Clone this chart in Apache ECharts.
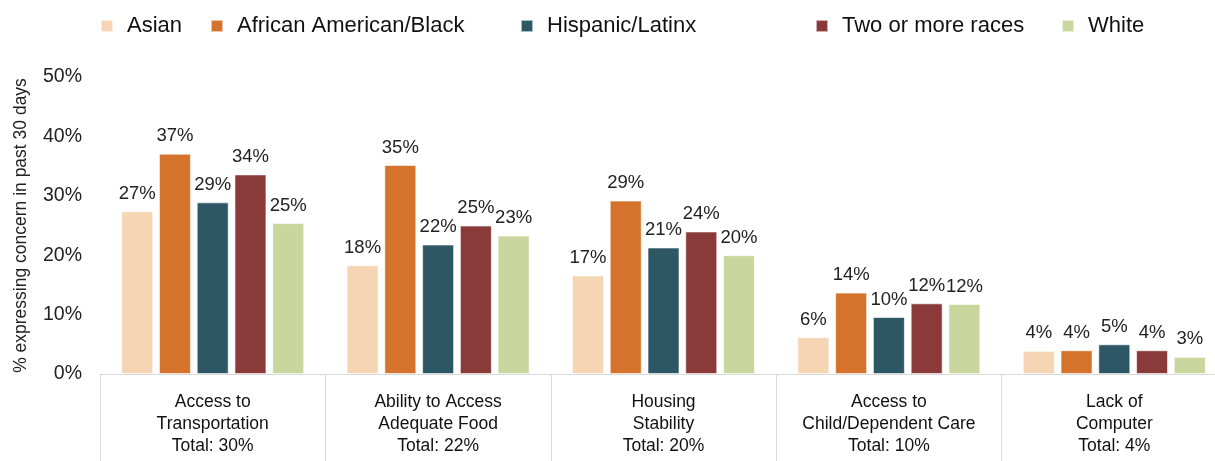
<!DOCTYPE html>
<html>
<head>
<meta charset="utf-8">
<script src="https://cdn.jsdelivr.net/npm/echarts@6/dist/echarts.min.js"></script>
<style>
html,body{margin:0;padding:0;background:#fff;overflow:hidden;}
#chart{width:1228px;height:461px;}
</style>
</head>
<body>
<div id="chart"></div>
<script>
const categories = [
  "Access to\nTransportation\nTotal: 30%",
  "Ability to Access\nAdequate Food\nTotal: 22%",
  "Housing\nStability\nTotal: 20%",
  "Access to\nChild/Dependent Care\nTotal: 10%",
  "Lack of\nComputer\nTotal: 4%"
];
const seriesNames = ["Asian", "African American/Black", "Hispanic/Latinx", "Two or more races", "White"];
const asian    = [27.4, 18.3, 16.6, 6.2, 3.9];
const african  = [37.1, 35.2, 29.2, 13.7, 4.0];
const hispanic = [28.9, 21.8, 21.3, 9.6, 5.0];
const twoMore  = [33.6, 25.0, 24.0, 11.9, 4.0];
const white    = [25.4, 23.3, 20.0, 11.8, 2.9];
const yTicks = [0, 10, 20, 30, 40, 50];

const seriesData = [asian, african, hispanic, twoMore, white];
const colors = ["#F6D5B5", "#D5722C", "#2E5766", "#8B3A3A", "#C9D69E"];
const legendLeft = [95, 205, 515, 810, 1056];

const font = "'Liberation Sans', Arial, sans-serif";

const chart = echarts.init(document.getElementById('chart'), null, {renderer: 'canvas'});
const option = {
  animation: false,
  textStyle: {fontFamily: font},
  legend: seriesNames.map((n, i) => ({
    data: [n],
    left: legendLeft[i],
    top: 10,
    itemWidth: 12,
    itemHeight: 12,
    icon: 'rect',
    textStyle: {fontFamily: font, fontSize: 22, color: '#111', padding: [0, 0, 0, 9]}
  })),
  grid: {left: 100, top: 77, right: 1, height: 297, containLabel: false},
  xAxis: {
    type: 'category',
    data: categories,
    axisLine: {show: true, lineStyle: {color: '#d9d9d9', width: 1}},
    axisTick: {show: true, length: 90, lineStyle: {color: '#d9d9d9', width: 1}},
    axisLabel: {
      fontFamily: font, fontSize: 17.5, color: '#111', lineHeight: 22, margin: 17,
      interval: 0
    }
  },
  yAxis: {
    type: 'value',
    min: yTicks[0],
    max: yTicks[yTicks.length - 1],
    interval: 10,
    splitLine: {show: false},
    axisLine: {show: false},
    axisTick: {show: false},
    axisLabel: {fontFamily: font, fontSize: 19.5, color: '#222', margin: 18, formatter: v => v + '%'},
    name: '% expressing concern in past 30 days',
    nameLocation: 'middle',
    nameGap: 70,
    nameTextStyle: {fontFamily: font, fontSize: 17.5, color: '#222'}
  },
  series: seriesNames.map((n, i) => ({
    name: n,
    type: 'bar',
    data: seriesData[i],
    barWidth: 32,
    barGap: '18%',
    itemStyle: {color: colors[i], borderColor: 'rgba(255,255,255,0.6)', borderWidth: 1},
    label: {
      show: true,
      position: 'top',
      distance: 8,
      fontFamily: font,
      fontSize: 18.5,
      color: '#222',
      formatter: p => Math.round(p.value) + '%'
    }
  }))
};
chart.setOption(option);
</script>
</body>
</html>
